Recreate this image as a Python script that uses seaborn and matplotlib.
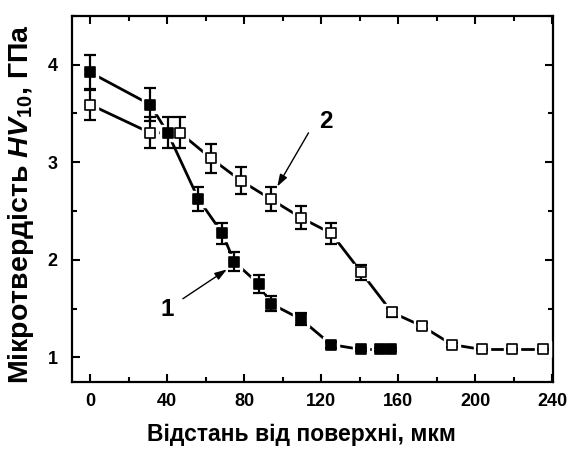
import matplotlib
matplotlib.use("Agg")
import matplotlib.pyplot as plt
import seaborn as sns
import pandas as pd
import numpy as np
from matplotlib.ticker import MultipleLocator

# ---- data ----
x1 = [0, 31.2, 40.3, 56.3, 68.7, 74.8, 87.6, 93.9, 109.5, 125.2, 140.8, 150.3, 156.4]
y1 = [3.92, 3.59, 3.30, 2.62, 2.27, 1.98, 1.75, 1.55, 1.39, 1.13, 1.08, 1.08, 1.08]
e1 = [0.18, 0.17, 0.16, 0.12, 0.11, 0.10, 0.09, 0.08, 0.06, 0.03, 0.02, 0.02, 0.02]

x2 = [0, 31.2, 46.8, 62.7, 78.3, 93.9, 109.5, 125.2, 140.8, 156.7, 172.3, 187.9, 203.5, 219.1, 235.0]
y2 = [3.59, 3.30, 3.30, 3.04, 2.81, 2.62, 2.43, 2.27, 1.87, 1.46, 1.32, 1.13, 1.08, 1.08, 1.08]
e2 = [0.16, 0.16, 0.16, 0.15, 0.14, 0.12, 0.12, 0.11, 0.08, 0.05, 0.03, 0.02, 0.01, 0.01, 0.01]

xticks = [0, 40, 80, 120, 160, 200, 240]
yticks = [1, 2, 3, 4]
xlabel = "Відстань від поверхні, мкм"
ylabel = r"Мікротвердість $\it{HV}_{\rm 10}$, ГПа"

df1 = pd.DataFrame({"x": x1, "y": y1})
df2 = pd.DataFrame({"x": x2, "y": y2})

sns.set_theme(style="ticks")
plt.rcParams["font.family"] = ["Liberation Sans", "DejaVu Sans"]
plt.rcParams["font.weight"] = "bold"
plt.rcParams["text.color"] = "black"
plt.rcParams["axes.labelcolor"] = "black"
plt.rcParams["xtick.color"] = "black"
plt.rcParams["ytick.color"] = "black"
plt.rcParams["mathtext.fontset"] = "custom"
plt.rcParams["mathtext.it"] = "Liberation Sans:italic:bold"
plt.rcParams["mathtext.rm"] = "Liberation Sans:bold"
plt.rcParams["mathtext.bf"] = "Liberation Sans:bold"

fig = plt.figure(figsize=(5.71, 4.53), dpi=100)
ax = fig.add_axes([0.1256, 0.1574, 0.9685 - 0.1256, 0.9653 - 0.1574])

ms = 7.5
for df, err, face in [(df2, e2, "white"), (df1, e1, "black")]:
    sns.lineplot(data=df, x="x", y="y", ax=ax, color="black", lw=2.0,
                 sort=False, zorder=2)
    # white halo to create small gaps around markers
    ax.plot(df["x"], df["y"], ls="none", marker="s", ms=ms + 3.5,
            mfc="white", mec="white", zorder=3)
for df, err, face in [(df2, e2, "white"), (df1, e1, "black")]:
    ax.errorbar(df["x"], df["y"], yerr=err, fmt="none", ecolor="black",
                elinewidth=1.6, capsize=4, capthick=1.6, zorder=4)
for df, err, face in [(df2, e2, "white"), (df1, e1, "black")]:
    sns.scatterplot(data=df, x="x", y="y", ax=ax, marker="s", s=ms ** 2,
                    color=face, edgecolor="black", linewidth=1.2, zorder=5)

ax.set_xlim(-9.5, 240.3)
ax.set_ylim(0.75, 4.5)
ax.set_xticks(xticks)
ax.set_yticks(yticks)
ax.xaxis.set_minor_locator(MultipleLocator(20))
ax.yaxis.set_minor_locator(MultipleLocator(0.5))
ax.tick_params(which="both", direction="in", top=True, right=True,
               width=1.5, labelsize=13, colors="black")
ax.tick_params(axis="x", which="major", pad=8)
ax.tick_params(axis="y", which="major", pad=10)
ax.tick_params(which="major", length=6)
ax.tick_params(which="minor", length=3.5)
ax.tick_params(axis="x", labeltop=False)
ax.tick_params(axis="y", labelright=False)
for lab in ax.get_xticklabels() + ax.get_yticklabels():
    lab.set_fontweight("bold")
for sp in ax.spines.values():
    sp.set_linewidth(1.6)
    sp.set_color("black")

ax.set_xlabel(xlabel, fontsize=16.5, fontweight="bold")
ax.xaxis.set_label_coords(0.477, -0.112)
ax.set_ylabel(ylabel, fontsize=20.5, fontweight="bold")
ax.yaxis.set_label_coords(-0.074, 0.485)

arrow = dict(arrowstyle="-|>,head_length=0.6,head_width=0.2", color="black", lw=1.0,
             shrinkA=0, shrinkB=0)
ax.annotate("", xy=(71.0, 1.90), xytext=(48.2, 1.60), arrowprops=arrow, zorder=6)
ax.text(40.0, 1.49, "1", fontsize=17.5, fontweight="bold", ha="center", va="center")
ax.annotate("", xy=(97.2, 2.75), xytext=(113.4, 3.30), arrowprops=arrow, zorder=6)
ax.text(122.6, 3.42, "2", fontsize=17.5, fontweight="bold", ha="center", va="center")

fig.savefig("out.png", dpi=100)
